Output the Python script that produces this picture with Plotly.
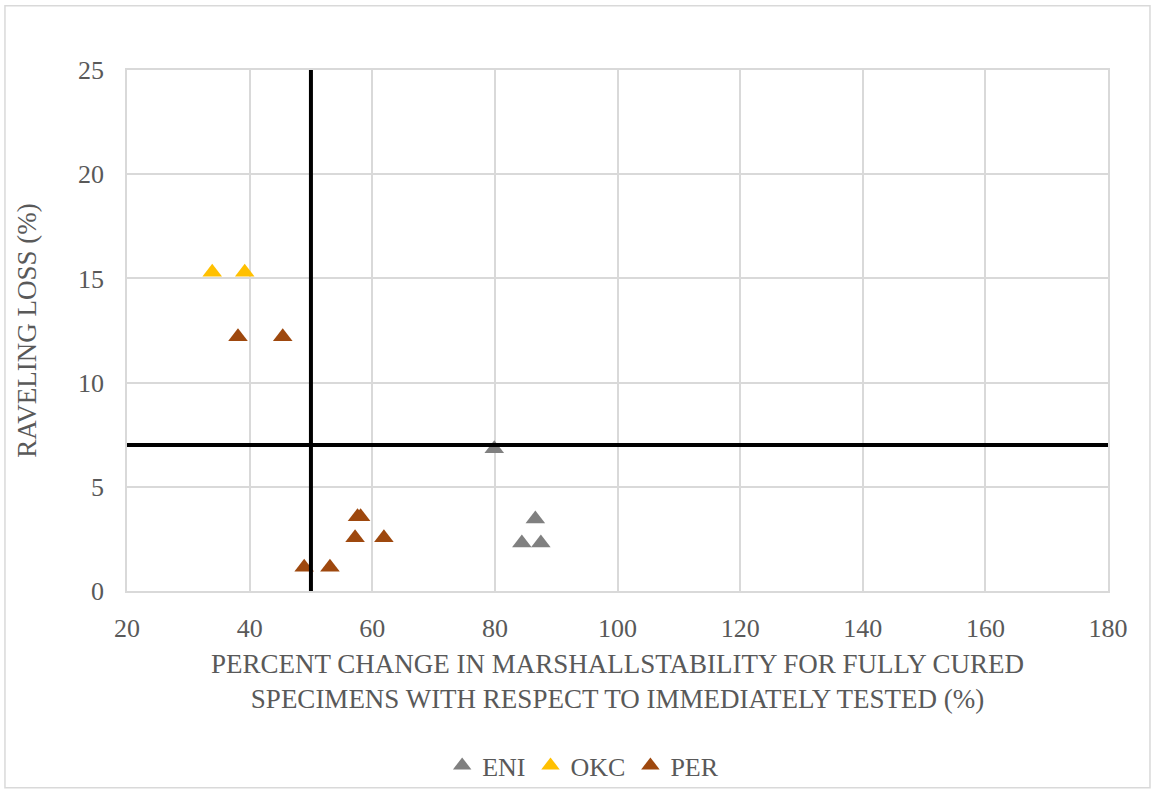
import plotly.graph_objects as go

eni_x = [79.9, 86.6, 84.4, 87.5]
eni_y = [6.83, 3.46, 2.3, 2.3]
okc_x = [33.9, 39.2]
okc_y = [15.3, 15.3]
per_x = [38.1, 45.4, 48.9, 53.1, 57.2, 61.9, 57.6, 58.1]
per_y = [12.2, 12.2, 1.14, 1.14, 2.56, 2.56, 3.56, 3.56]

x_threshold = 50
y_threshold = 7

FONT = "'Liberation Serif', 'Times New Roman', serif"
TXT = "#595959"
GRID = "#d9d9d9"

fig = go.Figure()
for name, xs, ys, col in [("ENI", eni_x, eni_y, "#808080"),
                          ("OKC", okc_x, okc_y, "#ffc000"),
                          ("PER", per_x, per_y, "#9e480e")]:
    fig.add_trace(go.Scatter(x=xs, y=ys, mode="markers", name=name,
                             marker=dict(symbol="triangle-up", size=17, color=col,
                                         line=dict(width=0))))

fig.add_shape(type="line", xref="x", yref="y", x0=x_threshold, x1=x_threshold, y0=0, y1=25,
              line=dict(color="black", width=4), layer="above")
fig.add_shape(type="line", xref="x", yref="y", x0=20, x1=180, y0=y_threshold, y1=y_threshold,
              line=dict(color="black", width=4), layer="above")
# outer chart border
fig.add_shape(type="rect", xref="paper", yref="paper", x0=-0.1244, x1=1.0428, y0=-0.3776, y1=1.1233,
              line=dict(color=GRID, width=1.5), layer="below")

fig.update_layout(
    width=1155, height=801,
    margin=dict(l=127, r=47, t=70, b=204),
    paper_bgcolor="white", plot_bgcolor="white",
    font=dict(family=FONT, size=26, color=TXT),
    showlegend=True,
    legend=dict(orientation="h", x=0.465, xanchor="center", y=-0.335, yanchor="middle",
                font=dict(family=FONT, size=26, color=TXT), itemwidth=30,
                bgcolor="rgba(0,0,0,0)", traceorder="normal"),
    xaxis=dict(range=[20, 180], dtick=20, tick0=20, showgrid=True, gridcolor=GRID, gridwidth=1.5,
               zeroline=False, showline=True, mirror=True, linecolor=GRID, linewidth=1.5,
               ticks="", ticklabelstandoff=13,
               tickfont=dict(family=FONT, size=26, color=TXT),
               title=dict(text="PERCENT CHANGE IN MARSHALLSTABILITY FOR FULLY CURED<br>SPECIMENS WITH RESPECT TO IMMEDIATELY TESTED (%)",
                          font=dict(family=FONT, size=27, color=TXT), standoff=12)),
    yaxis=dict(range=[0, 25], dtick=5, showgrid=True, gridcolor=GRID, gridwidth=1.5,
               zeroline=False, showline=True, mirror=True, linecolor=GRID, linewidth=1.5,
               ticks="", ticklabelstandoff=16,
               tickfont=dict(family=FONT, size=26, color=TXT),
               title=dict(text="RAVELING LOSS (%)", font=dict(family=FONT, size=27, color=TXT),
                          standoff=34)),
)

fig.write_html("out.html")
